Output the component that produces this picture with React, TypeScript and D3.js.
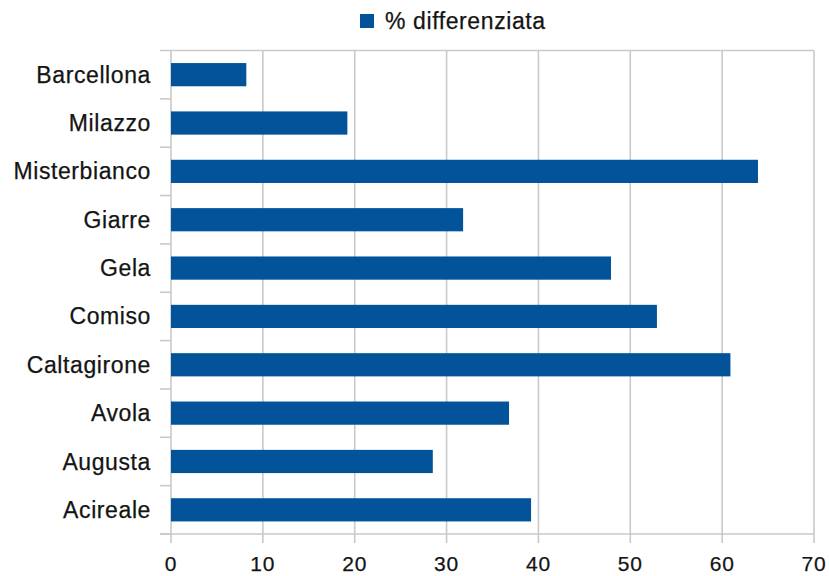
import React from "react";
import * as d3 from "d3";

const categories = ["Barcellona", "Milazzo", "Misterbianco", "Giarre", "Gela", "Comiso", "Caltagirone", "Avola", "Augusta", "Acireale"];
const values = [8.2, 19.2, 63.9, 31.8, 47.9, 52.9, 60.9, 36.8, 28.5, 39.2];
const xTicks = [0, 10, 20, 30, 40, 50, 60, 70];
const seriesName = "% differenziata";

const W = 829, H = 576;
const left = 171, right = 814, top = 50.5, bottom = 534;
const barColor = "#02539a";
const gridColor = "#c9c9c9";
const textColor = "#141414";
const font = "'Liberation Sans', Arial, sans-serif";

export default function App() {
  const x = d3.scaleLinear().domain([0, 70]).range([left, right]);
  const y = d3.scaleBand<string>().domain(categories).range([top, bottom]).paddingInner(0.52).paddingOuter(0.26);
  const band = d3.scaleBand<string>().domain(categories).range([top, bottom]);
  const boundaries = categories.map((c) => band(c) as number).concat([bottom]);
  const textProps = { fontFamily: font, fill: textColor, stroke: textColor, strokeWidth: 0.25 };
  return (
    <svg width={W} height={H} style={{ position: "absolute", left: 0, top: 0 }}>
      <rect width={W} height={H} fill="#fff" />
      {xTicks.map((t) => (
        <line key={"g" + t} x1={x(t)} x2={x(t)} y1={top} y2={bottom + 9} stroke={gridColor} strokeWidth={1.6} />
      ))}
      {boundaries.map((b, i) => (
        <line key={"b" + i} x1={left - 11} x2={i === 0 ? right : left} y1={b} y2={b} stroke={gridColor} strokeWidth={1.6} />
      ))}
      <line x1={left - 11} x2={right} y1={bottom} y2={bottom} stroke={gridColor} strokeWidth={1.6} />
      {categories.map((c, i) => (
        <rect key={c} x={x(0)} y={y(c)} width={x(values[i]) - x(0)} height={y.bandwidth()} fill={barColor} />
      ))}
      {categories.map((c) => (
        <text key={"l" + c} x={151} y={(band(c) as number) + band.bandwidth() / 2} dy="0.35em" textAnchor="end" fontSize={23} letterSpacing={0.6} {...textProps}>
          {c}
        </text>
      ))}
      {xTicks.map((t) => (
        <text key={"t" + t} x={x(t)} y={571} textAnchor="middle" fontSize={21} letterSpacing={0.8} {...textProps}>
          {t}
        </text>
      ))}
      <rect x={360} y={14} width={14} height={14} fill={barColor} />
      <text x={385} y={21} dy="0.35em" fontSize={23} letterSpacing={0.6} {...textProps}>
        {seriesName}
      </text>
    </svg>
  );
}
